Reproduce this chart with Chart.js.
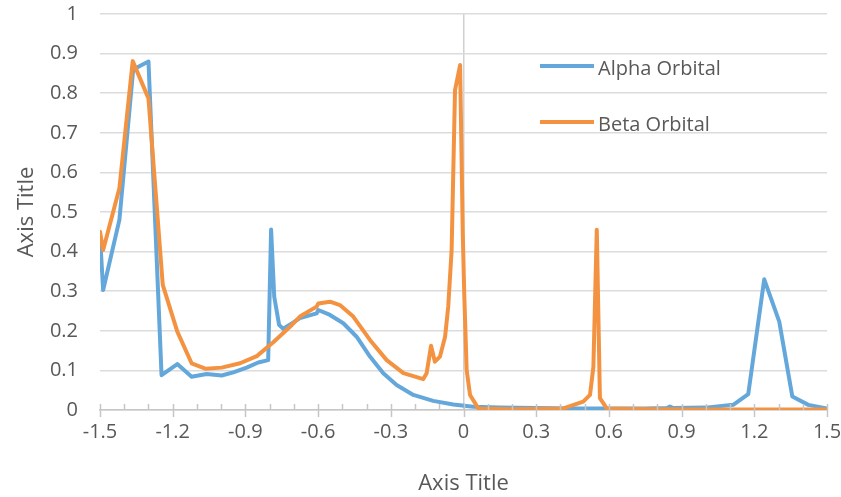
<!DOCTYPE html>
<html>
<head>
<meta charset="utf-8">
<script src="https://cdn.jsdelivr.net/npm/chart.js@4"></script>
<style>
  html, body { margin: 0; padding: 0; background: #ffffff; }
  #wrap { width: 841px; height: 497px; }
</style>
</head>
<body>
<div id="wrap"><canvas id="mycanvas" width="841" height="497"></canvas></div>
<script>
// orbital curves, x / y pairs
var alphaX = [-1.5, -1.487, -1.42, -1.363, -1.30, -1.246, -1.181, -1.122, -1.06, -0.998, -0.95, -0.895, -0.847, -0.806, -0.794, -0.781, -0.761, -0.744, -0.71, -0.675, -0.606, -0.599, -0.551, -0.496, -0.441, -0.386, -0.331, -0.276, -0.207, -0.125, -0.042, 0.04, 0.15, 0.3, 0.45, 0.6, 0.75, 0.84, 0.852, 0.865, 1.0, 1.113, 1.175, 1.241, 1.303, 1.357, 1.423, 1.5];
var alphaY = [0.44, 0.303, 0.48, 0.86, 0.88, 0.088, 0.116, 0.084, 0.091, 0.087, 0.095, 0.107, 0.12, 0.126, 0.456, 0.286, 0.215, 0.205, 0.218, 0.232, 0.244, 0.2525, 0.24, 0.219, 0.185, 0.135, 0.093, 0.063, 0.038, 0.023, 0.014, 0.008, 0.006, 0.005, 0.004, 0.004, 0.004, 0.005, 0.009, 0.005, 0.006, 0.013, 0.04, 0.33, 0.223, 0.034, 0.013, 0.004];

var betaX = [-1.5, -1.487, -1.42, -1.365, -1.30, -1.241, -1.181, -1.122, -1.063, -0.998, -0.922, -0.853, -0.785, -0.716, -0.675, -0.606, -0.599, -0.551, -0.51, -0.455, -0.386, -0.317, -0.248, -0.166, -0.152, -0.134, -0.118, -0.097, -0.076, -0.063, -0.049, -0.035, -0.014, -0.003, 0.003, 0.013, 0.027, 0.061, 0.2, 0.412, 0.494, 0.522, 0.536, 0.550, 0.563, 0.591, 0.8, 1.0, 1.2, 1.5];
var betaY = [0.45, 0.404, 0.56, 0.881, 0.787, 0.316, 0.198, 0.118, 0.104, 0.107, 0.118, 0.136, 0.171, 0.21, 0.236, 0.261, 0.269, 0.2735, 0.265, 0.236, 0.177, 0.126, 0.093, 0.078, 0.093, 0.162, 0.122, 0.135, 0.185, 0.261, 0.404, 0.808, 0.871, 0.447, 0.295, 0.101, 0.038, 0.004, 0.002, 0.004, 0.021, 0.038, 0.109, 0.455, 0.03, 0.004, 0.002, 0.001, 0.001, 0.001];

var seriesNames = ["Alpha Orbital", "Beta Orbital"];
var xTitle = "Axis Title";
var yTitle = "Axis Title";

function pairs(xs, ys) {
  var out = [];
  for (var i in xs) {
    out.push({ x: xs[i], y: ys[i] });
  }
  return out;
}

var textColor = "#595959";
var fontFamily = "'Open Sans', 'Liberation Sans', sans-serif";

// small ticks every 0.1 along the x axis, longer ones on the labelled steps
var minorTicks = {
  id: "minorTicks",
  afterDatasetsDraw: function(chart) {
    var xs = chart.scales.x;
    var y0 = chart.chartArea.bottom;
    var c = chart.ctx;
    c.save();
    c.strokeStyle = "#C6C6C6";
    c.lineWidth = 1.5;
    for (var k = -15; k <= 15; k++) {
      var px = Math.round(xs.getPixelForValue(k / 10)) + 0.5;
      var major = (k % 3 === 0);
      c.beginPath();
      c.moveTo(px, y0 - 6);
      c.lineTo(px, major ? y0 + 7 : y0);
      c.stroke();
    }
    c.restore();
  }
};

// legend sitting inside the plot, top right
var innerLegend = {
  id: "innerLegend",
  afterDraw: function(chart) {
    var c = chart.ctx;
    var rows = [66, 122];
    c.save();
    c.font = "20px " + fontFamily;
    c.textBaseline = "middle";
    c.fillStyle = textColor;
    chart.data.datasets.forEach(function(ds, i) {
      c.strokeStyle = ds.borderColor;
      c.lineWidth = 4;
      c.beginPath();
      c.moveTo(540, rows[i]);
      c.lineTo(594, rows[i]);
      c.stroke();
      c.fillText(ds.label, 598, rows[i] + 3);
    });
    c.restore();
  }
};

var chartdata = {
  datasets: [
    {
      label: seriesNames[0],
      data: pairs(alphaX, alphaY),
      borderColor: "#64A7DB",
      backgroundColor: "#64A7DB",
      borderWidth: 4,
      pointRadius: 0,
      tension: 0,
      fill: false,
      order: 1
    },
    {
      label: seriesNames[1],
      data: pairs(betaX, betaY),
      borderColor: "#F39341",
      backgroundColor: "#F39341",
      borderWidth: 4,
      pointRadius: 0,
      tension: 0,
      fill: false,
      order: 0
    }
  ]
};

var ctx = document.getElementById("mycanvas");

var LineGraph = new Chart(ctx, {
  type: "line",
  data: chartdata,
  plugins: [minorTicks, innerLegend],
  options: {
    responsive: false,
    animation: false,
    layout: { padding: { top: 14, right: 14, bottom: 0, left: 0 } },
    plugins: {
      legend: { display: false },
      tooltip: { enabled: false }
    },
    elements: { line: { borderJoinStyle: "round", borderCapStyle: "round" } },
    scales: {
      x: {
        type: "linear",
        min: -1.5,
        max: 1.5,
        afterFit: function(s) {
          s.height = 87;
          s.paddingLeft = 0;
          s.paddingRight = 0;
        },
        ticks: {
          stepSize: 0.3,
          padding: 10,
          color: textColor,
          font: { family: fontFamily, size: 20 },
          maxRotation: 0,
          callback: function(v) {
            return Math.abs(v) < 1e-9 ? "0" : String(+v.toFixed(1));
          }
        },
        grid: {
          drawTicks: false,
          lineWidth: 1.5,
          color: function(c) {
            return c.tick && Math.abs(c.tick.value) < 1e-9 ? "#D0D0D0" : "rgba(0,0,0,0)";
          }
        },
        border: { display: true, color: "#C6C6C6", width: 1.5 },
        title: {
          display: true,
          text: xTitle,
          color: textColor,
          font: { family: fontFamily, size: 22 },
          padding: { top: 0, bottom: 0 }
        }
      },
      y: {
        min: 0,
        max: 1,
        afterFit: function(s) {
          s.width = 100;
          s.paddingTop = 0;
          s.paddingBottom = 0;
        },
        ticks: {
          stepSize: 0.1,
          padding: 22,
          color: textColor,
          font: { family: fontFamily, size: 20 },
          callback: function(v) {
            return Math.abs(v) < 1e-9 ? "0" : String(+v.toFixed(1));
          }
        },
        grid: { drawTicks: false, color: "#DCDCDC", lineWidth: 1.5 },
        border: { display: false },
        title: {
          display: true,
          text: yTitle,
          color: textColor,
          font: { family: fontFamily, size: 22 },
          padding: { top: 14, bottom: 0 }
        }
      }
    }
  }
});
</script>
</body>
</html>
